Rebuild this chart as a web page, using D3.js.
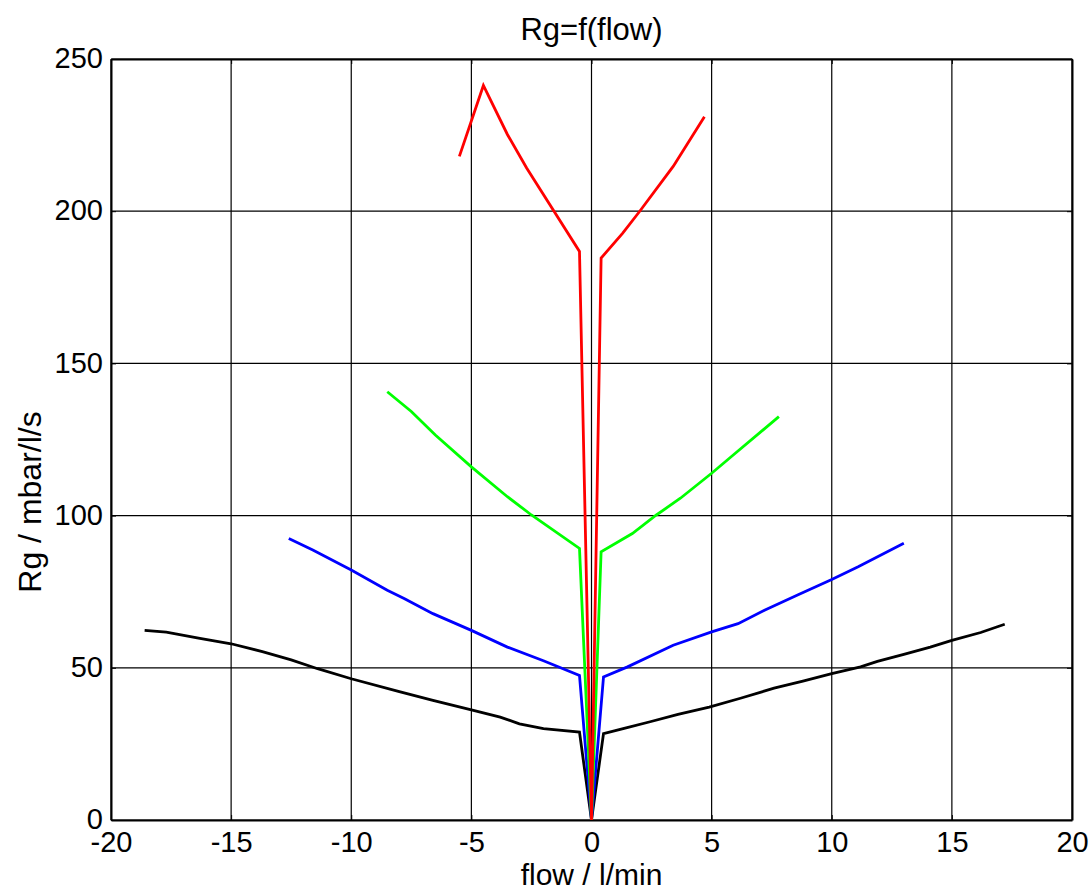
<!DOCTYPE html>
<html>
<head>
<meta charset="utf-8">
<script src="https://cdn.jsdelivr.net/npm/d3@7"></script>
<style>
  body { margin: 0; background: #fff; }
  text { font-family: "Liberation Sans", Arial, sans-serif; fill: #000; }
</style>
</head>
<body>
<div id="chart"></div>
<script>

// flow (l/min) and Rg (mbar/l/s) per curve
var black_flow = [-18.6, -17.7, -16.3, -15.0, -13.7, -12.5, -11.4, -10.0, -8.0, -6.6, -5.0, -3.8, -3.0, -2.0, -0.5, 0, 0.5, 1.4, 2.4, 3.6, 4.9, 6.2, 7.6, 8.8, 10.0, 11.2, 11.9, 13.0, 14.1, 15.0, 16.2, 17.2];
var black_rg   = [62.3, 61.7, 59.7, 57.9, 55.3, 52.6, 49.7, 46.4, 42.2, 39.3, 36.2, 33.8, 31.6, 30.0, 28.9, 0, 28.4, 30.2, 32.2, 34.7, 37.1, 40.0, 43.3, 45.6, 48.1, 50.3, 52.1, 54.4, 56.8, 59.0, 61.6, 64.3];

var blue_flow = [-12.6, -11.6, -10.0, -8.5, -7.8, -6.6, -5.0, -3.5, -2.0, -0.5, 0, 0.5, 1.5, 3.4, 5.0, 6.1, 7.2, 8.6, 10.0, 11.1, 13.0];
var blue_rg   = [92.5, 88.7, 82.1, 75.5, 72.8, 67.8, 62.3, 56.8, 52.3, 47.5, 0, 47.0, 50.3, 57.4, 61.8, 64.5, 68.9, 74.0, 79.0, 83.2, 90.9];

var green_flow = [-8.5, -7.5, -6.5, -5.0, -3.5, -2.5, -0.5, 0, 0.4, 1.7, 2.7, 3.7, 5.0, 5.9, 7.8];
var green_rg   = [140.7, 134.2, 126.5, 116.0, 106.2, 100.2, 89.2, 0, 88.1, 94.1, 100.2, 105.7, 113.9, 119.9, 132.5];

var red_flow = [-5.5, -4.5, -3.5, -2.7, -0.5, 0, 0.4, 1.3, 2.0, 3.4, 4.7];
var red_rg   = [218.0, 241.3, 225.2, 214.2, 186.8, 0, 184.6, 192.8, 199.9, 214.7, 231.0];

var x_ticks = [-20, -15, -10, -5, 0, 5, 10, 15, 20];
var y_ticks = [0, 50, 100, 150, 200, 250];

var series = [
    {flow: black_flow, rg: black_rg, color: "#000000"},
    {flow: blue_flow, rg: blue_rg, color: "#0000ff"},
    {flow: green_flow, rg: green_rg, color: "#00ff00"},
    {flow: red_flow, rg: red_rg, color: "#ff0000"}
];

const margin = {top: 59, right: 20, bottom: 71, left: 111},
    width = 1092 - margin.left - margin.right,
    height = 891 - margin.top - margin.bottom;

const svg = d3.select("#chart")
    .append("svg")
    .attr("width", 1092)
    .attr("height", 891)
    .append("g")
    .attr("transform", "translate(" + margin.left + "," + margin.top + ")");

var xScale = d3.scaleLinear().domain([-20, 20]).range([0, width]);
var yScale = d3.scaleLinear().domain([0, 250]).range([height, 0]);

// plain hyphen for negatives, like the original
var plain = function (d) { return String(d); };

// grid
svg.append("g")
    .attr("class", "grid-x")
    .selectAll("line")
    .data(x_ticks)
    .enter()
    .append("line")
    .attr("x1", function (d) { return xScale(d); })
    .attr("x2", function (d) { return xScale(d); })
    .attr("y1", 0)
    .attr("y2", height)
    .style("stroke", "#000")
    .style("stroke-width", "1.2px");

svg.append("g")
    .attr("class", "grid-y")
    .selectAll("line")
    .data(y_ticks)
    .enter()
    .append("line")
    .attr("y1", function (d) { return yScale(d); })
    .attr("y2", function (d) { return yScale(d); })
    .attr("x1", 0)
    .attr("x2", width)
    .style("stroke", "#000")
    .style("stroke-width", "1.2px");

// axes with inward ticks, on all four sides
var x_axis = svg.append("g")
    .attr("class", "x-axis")
    .attr("transform", "translate(0," + height + ")")
    .call(d3.axisBottom(xScale).tickValues(x_ticks).tickSizeInner(-5).tickSizeOuter(0).tickPadding(11).tickFormat(plain));

var y_axis = svg.append("g")
    .attr("class", "y-axis")
    .call(d3.axisLeft(yScale).tickValues(y_ticks).tickSizeInner(-5).tickSizeOuter(0).tickPadding(8).tickFormat(plain));

svg.append("g")
    .call(d3.axisTop(xScale).tickValues(x_ticks).tickSizeInner(-5).tickSizeOuter(0).tickFormat(""));

svg.append("g")
    .attr("transform", "translate(" + width + ",0)")
    .call(d3.axisRight(yScale).tickValues(y_ticks).tickSizeInner(-5).tickSizeOuter(0).tickFormat(""));

svg.selectAll(".domain").style("stroke", "#000").style("stroke-width", "2px");
svg.selectAll(".tick line").style("stroke", "#000");

x_axis.selectAll("text")
    .style("font-size", "29px")
    .attr("dy", "0.71em");

y_axis.selectAll("text")
    .style("font-size", "29px")
    .attr("dy", "0.3em");

// curves
var line = d3.line()
    .x(function (d) { return xScale(d[0]); })
    .y(function (d) { return yScale(d[1]); });

svg.selectAll("path.curve")
    .data(series)
    .enter()
    .append("path")
    .attr("class", "curve")
    .attr("d", function (s) { return line(d3.zip(s.flow, s.rg)); })
    .style("fill", "none")
    .style("stroke", function (s) { return s.color; })
    .style("stroke-width", "2.8px")
    .style("stroke-linejoin", "miter");

// labels
svg.append("text")
    .attr("x", width / 2)
    .attr("y", -19)
    .attr("text-anchor", "middle")
    .style("font-size", "31px")
    .text("Rg=f(flow)");

svg.append("text")
    .attr("x", width / 2)
    .attr("y", height + 65)
    .attr("text-anchor", "middle")
    .style("font-size", "30px")
    .text("flow / l/min");

svg.append("text")
    .attr("transform", "translate(" + (-70) + "," + 443 + ") rotate(-90)")
    .attr("text-anchor", "middle")
    .style("font-size", "32px")
    .text("Rg / mbar/l/s");

</script>
</body>
</html>
